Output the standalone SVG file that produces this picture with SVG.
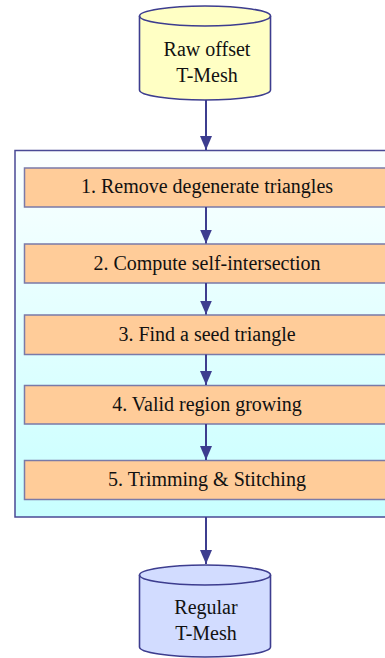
<svg xmlns="http://www.w3.org/2000/svg" width="385" height="658" viewBox="0 0 385 658">
<style>
  .txt { font-family: "Liberation Serif", "Times New Roman", serif; font-size: 20px; fill: #111; text-anchor: middle; }
  .step { fill: #ffcc99; stroke: #7a7aa8; stroke-width: 1.5; }
  .cyl { stroke: #3d3d8f; stroke-width: 1.6; }
  .conn { stroke: #3d3d8f; stroke-width: 2; fill: none; marker-end: url(#arr); }
</style>
<defs>
  <linearGradient id="bg" x1="0" y1="0" x2="0" y2="1">
    <stop offset="0" stop-color="#fbffff"/>
    <stop offset="1" stop-color="#c8ffff"/>
  </linearGradient>
  <marker id="arr" markerUnits="userSpaceOnUse" markerWidth="14" markerHeight="12" viewBox="0 0 14 12" refX="14" refY="6" orient="auto">
    <path d="M0,0 L14,6 L0,12 Z" fill="#3d3d8f"/>
  </marker>
</defs>

<g id="container">
  <rect x="15" y="150.5" width="380" height="366.5" fill="url(#bg)" stroke="#4a4a95" stroke-width="1.5"/>
</g>

<g id="input">
  <path class="cyl" fill="#ffffc4" d="M139.5,16 L139.5,90 A65.5,10 0 0 0 270.5,90 L270.5,16 A65.5,10 0 0 0 139.5,16 Z"/>
  <path class="cyl" fill="none" d="M139.5,16 A65.5,10 0 0 0 270.5,16"/>
  <text class="txt" x="207" y="56">Raw offset</text>
  <text class="txt" x="207" y="82">T-Mesh</text>
</g>

<g id="step1">
  <rect class="step" x="24.5" y="168" width="370" height="39"/>
  <text class="txt" x="207" y="193">1. Remove degenerate triangles</text>
</g>
<g id="step2">
  <rect class="step" x="24.5" y="244" width="370" height="39"/>
  <text class="txt" x="207" y="270">2. Compute self-intersection</text>
</g>
<g id="step3">
  <rect class="step" x="24.5" y="315" width="370" height="39.5"/>
  <text class="txt" x="207" y="341">3. Find a seed triangle</text>
</g>
<g id="step4">
  <rect class="step" x="24.5" y="385.5" width="370" height="38.5"/>
  <text class="txt" x="207" y="411">4. Valid region growing</text>
</g>
<g id="step5">
  <rect class="step" x="24.5" y="460.5" width="370" height="39"/>
  <text class="txt" x="207" y="486">5. Trimming &amp; Stitching</text>
</g>

<g id="output">
  <path class="cyl" fill="#d2dcff" d="M139.5,575 L139.5,647 A65.5,10 0 0 0 270.5,647 L270.5,575 A65.5,10 0 0 0 139.5,575 Z"/>
  <path class="cyl" fill="none" d="M139.5,575 A65.5,10 0 0 0 270.5,575"/>
  <text class="txt" x="206" y="614">Regular</text>
  <text class="txt" x="206" y="640">T-Mesh</text>
</g>

<g id="connectors">
  <line class="conn" x1="206" y1="100" x2="206" y2="150"/>
  <line class="conn" x1="206" y1="207" x2="206" y2="243.5"/>
  <line class="conn" x1="206" y1="283" x2="206" y2="314.5"/>
  <line class="conn" x1="206" y1="354.5" x2="206" y2="385"/>
  <line class="conn" x1="206" y1="424" x2="206" y2="460"/>
  <line class="conn" x1="206" y1="517" x2="206" y2="564"/>
</g>
</svg>
